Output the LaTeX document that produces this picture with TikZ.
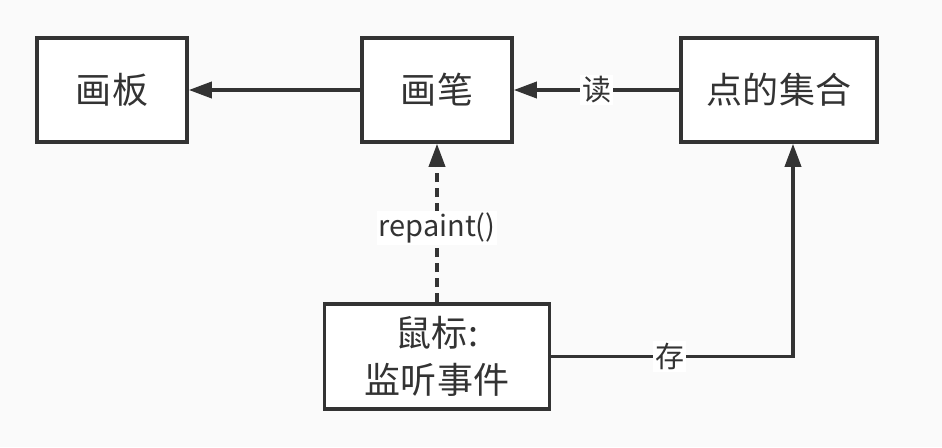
\documentclass[tikz,border=0pt]{standalone}
\usepackage{fontspec}
\setmainfont{Noto Sans CJK SC}
\definecolor{InkGray}{RGB}{51,51,51}
\definecolor{PaperGray}{RGB}{250,250,250}
\usetikzlibrary{arrows.meta}
\tikzset{
  box/.style={draw=InkGray,fill=white,line width=2pt,text=InkGray,
    minimum height=2.08cm,inner sep=0pt,align=center,
    font=\fontsize{20.5}{27}\selectfont},
  link/.style={draw=InkGray,line width=2pt,
    -{Triangle[length=0.46cm,width=0.32cm]}},
  tag/.style={fill=white,text=InkGray,inner sep=1pt,
    font=\fontsize{16.5}{19}\selectfont}
}

\begin{document}
\begin{tikzpicture}
\fill[PaperGray] (0,0) rectangle (18.84,8.94);
\useasboundingbox (0,0) rectangle (18.84,8.94);
% boxes
\node[box,minimum width=3cm] (board) at (2.24,7.14) {画板};
\node[box,minimum width=3cm] (pen) at (8.74,7.14) {画笔};
\node[box,minimum width=3.92cm] (points) at (15.58,7.14) {点的集合};
\node[box,minimum width=4.5cm,minimum height=2.1cm] (mouse) at (8.74,1.81) {鼠标:\\监听事件};
\coordinate (store) at ([xshift=0.28cm]points.south);
% connectors
\draw[link] (pen) -- (board);
\draw[link] (points) -- node[tag]{读} (pen);
\draw[link,dash pattern=on 0.18cm off 0.12cm] (mouse) -- node[tag,pos=0.47]{repaint()} (pen);
\draw[link] (mouse.east) -| node[tag,pos=0.245]{存} (store);
\end{tikzpicture}
\end{document}
